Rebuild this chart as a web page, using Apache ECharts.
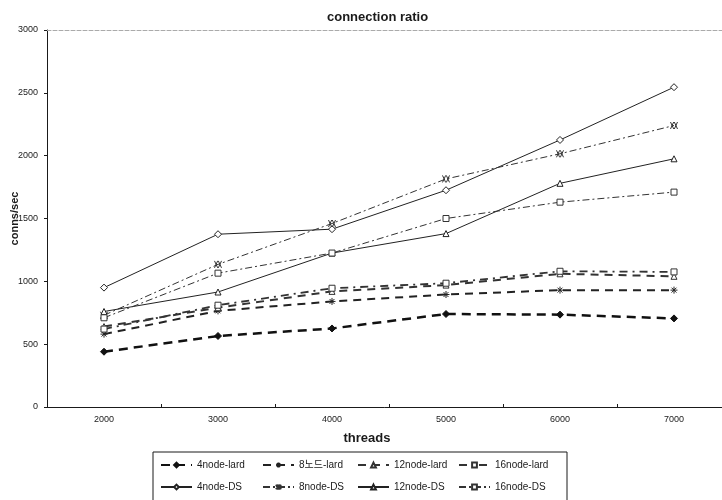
<!DOCTYPE html>
<html>
<head>
<meta charset="utf-8">
<script src="https://cdn.jsdelivr.net/npm/echarts@6/dist/echarts.min.js"></script>
<style>html,body{margin:0;padding:0;background:#fff}#c{width:722px;height:500px}</style>
</head>
<body>
<div id="c"></div>
<script>
var categories = ['2000', '3000', '4000', '5000', '6000', '7000'];
var yTicks = [0, 500, 1000, 1500, 2000, 2500, 3000];
var seriesNames = ['4node-lard', '8노드-lard', '12node-lard', '16node-lard', '4node-DS', '8node-DS', '12node-DS', '16node-DS'];
var node4Lard  = [440, 565, 625, 740, 735, 705];
var node8Lard  = [580, 765, 840, 895, 930, 930];
var node12Lard = [640, 790, 920, 970, 1060, 1040];
var node16Lard = [620, 810, 945, 985, 1080, 1075];
var node4DS    = [950, 1375, 1415, 1725, 2125, 2545];
var node8DS    = [730, 1135, 1460, 1815, 2015, 2240];
var node12DS   = [760, 915, 1225, 1380, 1780, 1975];
var node16DS   = [710, 1065, 1225, 1500, 1630, 1710];

var FONT = '"Liberation Sans", Arial, "Noto Sans CJK KR", sans-serif';
var INK = '#1a1a1a';
var asterisk = 'path://M0,5L10,5M5,0L5,10M1.5,1.5L8.5,8.5M8.5,1.5L1.5,8.5';
var dblx = 'path://M0,0L5,10M5,0L0,10M6,0L11,10M11,0L6,10';

function mk(name, data, lineType, width, color, symbol, size, filled) {
  return {
    name: name, type: 'line', data: data,
    symbol: symbol, symbolSize: size,
    lineStyle: { type: lineType, width: width, color: color },
    itemStyle: { color: filled ? color : '#fff', borderColor: color, borderWidth: 1 },
    emphasis: { disabled: true },
    z: 3
  };
}

var legendCols = [160, 262, 357, 458];
var legendRows = [460, 482];
var legends = seriesNames.map(function (n, i) {
  return {
    data: [n], left: legendCols[i % 4], top: legendRows[Math.floor(i / 4)],
    padding: 0, itemWidth: 31, itemHeight: 6, itemGap: 0, selectedMode: false,
    textStyle: { fontFamily: FONT, fontSize: 10, color: INK }
  };
});

var chart = echarts.init(document.getElementById('c'), null, { renderer: 'canvas' });
chart.setOption({
  animation: false,
  backgroundColor: '#fff',
  title: {
    text: 'connection ratio', left: 322, top: 6,
    textStyle: { fontFamily: FONT, fontSize: 13, fontWeight: 'bold', color: INK }
  },
  grid: { left: 47, right: -9, top: 30, bottom: 93, containLabel: false, outerBoundsMode: 'none' },
  xAxis: [{
    type: 'category', data: categories, boundaryGap: true,
    name: 'threads', nameLocation: 'middle', nameGap: 25,
    nameTextStyle: { fontFamily: FONT, fontSize: 13, fontWeight: 'bold', color: INK, padding: [0, 44, 0, 0] },
    axisLine: { lineStyle: { color: INK, width: 1 } },
    axisTick: { show: true, length: 3, inside: true, lineStyle: { color: INK } },
    axisLabel: { fontFamily: FONT, fontSize: 9, color: INK, margin: 8 },
    splitLine: { show: false }
  }, {
    type: 'category', data: categories, position: 'top',
    axisLine: { lineStyle: { color: '#aaa', width: 1, type: 'dashed' } },
    axisTick: { show: false }, axisLabel: { show: false }, splitLine: { show: false }
  }],
  yAxis: {
    type: 'value', min: yTicks[0], max: yTicks[yTicks.length - 1], interval: 500,
    name: 'conns/sec', nameLocation: 'middle', nameGap: 27, nameRotate: 90, nameMoveOverlap: false,
    nameTextStyle: { fontFamily: FONT, fontSize: 11, fontWeight: 'bold', color: INK },
    axisLine: { show: true, lineStyle: { color: INK, width: 1 } },
    axisTick: { show: true, length: 3, lineStyle: { color: INK } },
    axisLabel: { fontFamily: FONT, fontSize: 9, color: INK, margin: 9, formatter: function (v) { return String(v); } },
    splitLine: { show: false }
  },
  legend: legends,
  graphic: [{
    type: 'rect', shape: { x: 153, y: 452, width: 414, height: 52 },
    style: { fill: 'none', stroke: INK, lineWidth: 1 }, silent: true
  }],
  series: [
    mk(seriesNames[0], node4Lard, [9, 6], 2.5, '#111', 'diamond', 7, true),
    mk(seriesNames[1], node8Lard, [8, 6], 2, '#222', asterisk, 7, false),
    mk(seriesNames[2], node12Lard, [8, 6], 2, '#333', 'triangle', 6, false),
    mk(seriesNames[3], node16Lard, [8, 5, 2, 5], 1.8, '#333', 'rect', 6, false),
    mk(seriesNames[4], node4DS, 'solid', 1, '#222', 'diamond', 7, false),
    mk(seriesNames[5], node8DS, [7, 3, 2, 3], 1, '#333', dblx, 7, false),
    mk(seriesNames[6], node12DS, 'solid', 1, '#222', 'triangle', 6, false),
    mk(seriesNames[7], node16DS, [7, 3, 2, 3], 1, '#333', 'rect', 6, false)
  ]
});
</script>
</body>
</html>
